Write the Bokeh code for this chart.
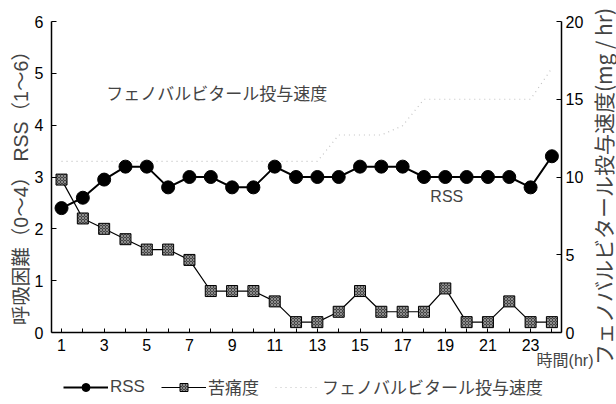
import math

from bokeh.embed import file_html
from bokeh.models import (ColumnDataSource, FixedTicker, Label, Legend,
                          LegendItem, LinearAxis, Range1d)
from bokeh.plotting import figure
from bokeh.resources import INLINE

# hourly observations
hours = list(range(1, 25))
rss = [2.4, 2.6, 2.95, 3.2, 3.2, 2.8, 3.0, 3.0, 2.8, 2.8, 3.2, 3.0,
       3.0, 3.0, 3.2, 3.2, 3.2, 3.0, 3.0, 3.0, 3.0, 3.0, 2.8, 3.4]
distress = [2.95, 2.2, 2.0, 1.8, 1.6, 1.6, 1.4, 0.8, 0.8, 0.8, 0.6, 0.2,
            0.2, 0.4, 0.8, 0.4, 0.4, 0.4, 0.85, 0.2, 0.2, 0.6, 0.2, 0.2]
# phenobarbital infusion rate (mg/hr)
pheno_rate = [11, 11, 11, 11, 11, 11, 11, 11, 11, 11, 11, 11,
              11, 12.7, 12.7, 12.7, 13.3, 15, 15, 15, 15, 15, 15, 17]

odd_ticks = list(range(1, 25, 2))
even_ticks = list(range(2, 25, 2))
score_ticks = [0, 1, 2, 3, 4, 5, 6]
rate_ticks = [0, 5, 10, 15, 20]

LATIN = "Liberation Sans, Noto Sans CJK JP"
JP = "Noto Sans CJK JP, Liberation Sans"

W, H = 616, 404
# plotting box inside the canvas (pixels): left, right, top, bottom
BOX_L, BOX_R, BOX_T, BOX_B = 51, 561, 21, 332
X0, X1 = 0.53, 24.45          # hours spanned by the box
Y1 = 6                        # score axis top
R1 = 20                       # rate axis top

# the frame fills the whole canvas; axes sit on the box edges
xs = (X1 - X0) / (BOX_R - BOX_L)
ys = Y1 / (BOX_B - BOX_T)
rs = R1 / (BOX_B - BOX_T)
x_range = Range1d(X0 - BOX_L * xs, X1 + (W - BOX_R) * xs)
y_range = Range1d(-(H - BOX_B) * ys, Y1 + BOX_T * ys)
rate_range = Range1d(-(H - BOX_B) * rs, R1 + BOX_T * rs)

src = ColumnDataSource(dict(h=hours, rss=rss, distress=distress, pheno=pheno_rate))

p = figure(width=W, height=H, output_backend="svg", toolbar_location=None,
           x_range=x_range, y_range=y_range, min_border=0,
           x_axis_location=None, y_axis_location=None)
p.extra_y_ranges = {"rate": rate_range}
p.outline_line_color = None
p.xgrid.visible = False
p.ygrid.visible = False
p.background_fill_color = "white"
p.border_fill_color = "white"


def style_axis(ax, standoff):
    ax.major_tick_out = 0
    ax.major_label_standoff = standoff
    ax.major_label_text_font = LATIN
    ax.major_label_text_font_size = "16px"
    ax.major_label_text_color = "black"
    ax.axis_line_width = 1.5
    ax.axis_line_color = "black"
    ax.major_tick_line_color = "black"


# bottom axis: a tick at every hour, labels on odd hours
xa = LinearAxis(fixed_location=0, bounds=(X0, X1),
                ticker=FixedTicker(ticks=odd_ticks, minor_ticks=even_ticks))
style_axis(xa, 6)
xa.major_tick_in = 4
xa.minor_tick_in = 4
xa.minor_tick_out = 0
p.add_layout(xa, "below")

ya = LinearAxis(fixed_location=X0, bounds=(0, Y1),
                ticker=FixedTicker(ticks=score_ticks))
style_axis(ya, 8)
ya.major_tick_in = 5
ya.minor_tick_line_color = None
p.add_layout(ya, "left")

ra = LinearAxis(fixed_location=X1, bounds=(0, R1), y_range_name="rate",
                ticker=FixedTicker(ticks=rate_ticks))
style_axis(ra, 4)
ra.major_tick_in = 5
ra.minor_tick_line_color = None
p.add_layout(ra, "right")

# infusion rate: faint dotted trace on the right scale
pheno_line = p.line("h", "pheno", source=src, y_range_name="rate",
                    line_color="#c2c2c2", line_width=1.2, line_dash="1 4")

# distress score
d_line = p.line("h", "distress", source=src, line_color="black", line_width=1.2)
d_pts = p.scatter("h", "distress", source=src, marker="square", size=11,
                  fill_color="#444444", line_color="black", line_width=1,
                  hatch_pattern="x", hatch_color="#a0a0a0", hatch_scale=3,
                  hatch_weight=0.8)

# RSS
r_line = p.line("h", "rss", source=src, line_color="black", line_width=2)
r_pts = p.scatter("h", "rss", source=src, marker="circle", size=13,
                  fill_color="black", line_color="black")

# in-plot annotations
p.add_layout(Label(x=3.1, y=4.63, text="フェノバルビタール投与速度",
                   text_font=JP, text_font_size="17px",
                   text_align="left", text_baseline="middle"))
p.add_layout(Label(x=19.07, y=2.63, text="RSS",
                   text_font=LATIN, text_font_size="16px",
                   text_align="center", text_baseline="middle"))

# axis titles (screen units: pixels from the canvas bottom-left)
p.add_layout(Label(x=20, y=H - 180, x_units="screen", y_units="screen",
                   text="呼吸困難（0〜4）  RSS（1〜6）", angle=math.pi / 2,
                   text_font=LATIN, text_font_size="19.5px",
                   text_align="center", text_baseline="middle"))
p.add_layout(Label(x=602, y=H - 186, x_units="screen", y_units="screen",
                   text="フェノバルビタール投与速度(mg / hr)", angle=math.pi / 2,
                   text_font=JP, text_font_size="21px",
                   text_align="center", text_baseline="middle"))
p.add_layout(Label(x=593, y=H - 360, x_units="screen", y_units="screen",
                   text="時間(hr)", text_font=LATIN, text_font_size="16px",
                   text_align="right", text_baseline="middle"))

legend = Legend(items=[
    LegendItem(label="RSS", renderers=[r_line, r_pts]),
    LegendItem(label="苦痛度", renderers=[d_line, d_pts]),
    LegendItem(label="フェノバルビタール投与速度", renderers=[pheno_line]),
], location=(63, 5), orientation="horizontal")
legend.padding = 0
legend.margin = 0
legend.spacing = 16
legend.glyph_width = 45
legend.glyph_height = 20
legend.label_standoff = 2
legend.label_text_font = LATIN
legend.label_text_font_size = "17px"
legend.border_line_color = None
legend.background_fill_alpha = 0
p.add_layout(legend)

open("out.html", "w").write(file_html(p, INLINE))
